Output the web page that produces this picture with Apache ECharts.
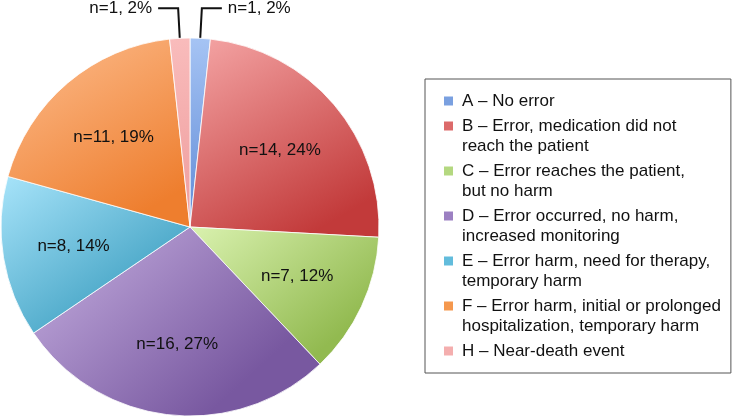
<!DOCTYPE html>
<html><head><meta charset="utf-8">
<script src="https://cdn.jsdelivr.net/npm/echarts@6/dist/echarts.min.js"></script>
<style>html,body{margin:0;padding:0;background:#fff}#c{width:732px;height:417px}</style>
</head><body><div id="c"></div><script>
// ---- data ----
const categories = [
  'A – No error',
  'B – Error, medication did not\nreach the patient',
  'C – Error reaches the patient,\nbut no harm',
  'D – Error occurred, no harm,\nincreased monitoring',
  'E – Error harm, need for therapy,\ntemporary harm',
  'F – Error harm, initial or prolonged\nhospitalization, temporary harm',
  'H – Near-death event'
];
const counts = [1, 14, 7, 16, 8, 11, 1];
const percents = [2, 24, 12, 27, 14, 19, 2];

// ---- styles ----
const lightColors = ['#a6c4f4', '#f5a6a6', '#daf2b0', '#c8b2e2', '#a8e4fa', '#fdbe90', '#f9bcbc'];
const darkColors  = ['#5f8ad6', '#c23a3a', '#92ba50', '#7858a0', '#3c9ec0', '#ee7e2e', '#ee9c9c'];
const midColors   = ['#7aa0e0', '#dc6a6a', '#b4d880', '#9c80c2', '#62bcdc', '#f5984e', '#f4aeae'];
const FONT = '"Liberation Sans", Arial, sans-serif';

const total = counts.reduce((a, b) => a + b, 0);
const labelTexts = counts.map((n, i) => 'n=' + n + ', ' + percents[i] + '%');
const isSmall = counts.map(n => n / total < 0.05);

const grad = i => new echarts.graphic.LinearGradient(0, 0, 0.6, 1, [
  { offset: 0, color: lightColors[i] }, { offset: 1, color: darkColors[i] }
]);

const rich = { t: { fontSize: 17, lineHeight: 20, fontFamily: FONT, color: '#111' },
               g: { width: 9 }, s: { width: 18 } };
midColors.forEach((c, i) => { rich['m' + i] = { width: 9, height: 9, backgroundColor: c }; });

const chart = echarts.init(document.getElementById('c'), null, { renderer: 'canvas' });
chart.setOption({
  animation: false,
  backgroundColor: '#fff',
  legend: {
    orient: 'vertical',
    left: 425, top: 79,
    padding: [12, 10, 12, 12],
    borderColor: '#555', borderWidth: 1,
    itemGap: 5,
    icon: 'rect', itemWidth: 1, itemHeight: 1,
    itemStyle: { color: 'rgba(0,0,0,0)', opacity: 0 },
    selectedMode: false,
    data: categories,
    textStyle: { fontSize: 17, lineHeight: 20, fontFamily: FONT, color: '#111', rich: rich },
    formatter: name => {
      const i = categories.indexOf(name);
      const lines = name.split('\n');
      return lines.map((l, k) => (k === 0 ? '{m' + i + '|}{g|}' : '{s|}') + '{t|' + l + '}').join('\n');
    }
  },
  series: [
    {
      type: 'pie', center: [190, 227], radius: 189, startAngle: 90,
      avoidLabelOverlap: false, silent: true,
      itemStyle: { borderColor: 'rgba(255,255,255,0.8)', borderWidth: 1 },
      label: { show: true, position: 'outside', formatter: p => labelTexts[p.dataIndex],
               fontSize: 17, fontFamily: FONT, color: '#111', distanceToLabelLine: 6 },
      labelLine: { show: true, length: 30, length2: 20, lineStyle: { color: '#111', width: 2 } },
      emphasis: { disabled: true },
      data: categories.map((name, i) => ({
        name, value: counts[i], itemStyle: { color: grad(i) },
        label: { show: isSmall[i] }, labelLine: { show: isSmall[i] }
      }))
    },
    {
      type: 'pie', center: [190, 227], radius: 230, startAngle: 90,
      silent: true, z: 3,
      itemStyle: { color: 'rgba(0,0,0,0)' },
      label: { show: true, position: 'inner', formatter: p => labelTexts[p.dataIndex],
               fontSize: 17, fontFamily: FONT, color: '#111' },
      labelLine: { show: false },
      emphasis: { disabled: true },
      data: categories.map((name, i) => ({ name, value: counts[i], label: { show: !isSmall[i] } }))
    }
  ]
});
</script></body></html>
